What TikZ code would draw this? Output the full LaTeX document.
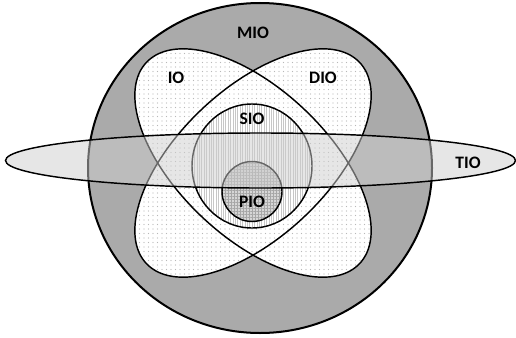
\documentclass[tikz,border=0pt]{standalone}
\usepackage{fontspec}
\setmainfont{Carlito}
\usetikzlibrary{patterns.meta}
\definecolor{miofill}{gray}{0.667}
\definecolor{tiofill}{gray}{0.806}
\definecolor{piofill}{gray}{0.84}
\tikzset{
  outline/.style={draw=black, line width=2pt},
  thinline/.style={draw=black, line width=1.45pt},
  dotfill/.style={fill=white, postaction={pattern={Dots[distance=4.5pt,radius=0.55pt]}, pattern color=black!28}},
  linefill/.style={fill=white, postaction={pattern={Lines[angle=90,distance=2.4pt,line width=0.35pt]}, pattern color=black!22}},
  gridfill/.style={fill=piofill, postaction={pattern={Hatch[angle=0,distance=3pt,line width=0.4pt]}, pattern color=black!35}},
  lbl/.style={font=\bfseries\fontsize{17.5}{17.5}\selectfont, text=black, inner sep=0pt}
}
\begin{document}
\begin{tikzpicture}[x=1pt,y=-1pt]
\useasboundingbox (0,0) rectangle (516,337);
% MIO big circle
\fill[miofill] (260,168) ellipse [x radius=172, y radius=165];
% petals
\begin{scope}[shift={(253,163)}, xscale=1.035]
  \path[dotfill, rotate=45] (0,0) ellipse [x radius=144, y radius=73];
  \path[dotfill, rotate=-45] (0,0) ellipse [x radius=144, y radius=73];
\end{scope}
% SIO
\path[linefill] (252,166) ellipse [x radius=60, y radius=62];
% PIO
\path[gridfill] (252,191.5) circle [radius=30];
% outlines
\draw[outline] (260,168) ellipse [x radius=172, y radius=165];
\begin{scope}[shift={(253,163)}, xscale=1.035]
  \draw[thinline, rotate=45] (0,0) ellipse [x radius=144, y radius=73];
  \draw[thinline, rotate=-45] (0,0) ellipse [x radius=144, y radius=73];
\end{scope}
\draw[thinline] (252,166) ellipse [x radius=60, y radius=62];
\draw[thinline] (252,191.5) circle [radius=30];
% TIO
\fill[tiofill, fill opacity=0.5] (260.5,160.5) ellipse [x radius=255, y radius=27.5];
\draw[thinline] (260.5,160.5) ellipse [x radius=255, y radius=27.5];
% labels
\node[lbl] (mio) at (253,33) {MIO};
\node[lbl] (io) at (176,78) {IO};
\node[lbl] (dio) at (323,78) {DIO};
\node[lbl] (sio) at (252,119) {SIO};
\node[lbl] (tio) at (468,163) {TIO};
\node[lbl] (pio) at (252,202) {PIO};
\end{tikzpicture}
\end{document}
